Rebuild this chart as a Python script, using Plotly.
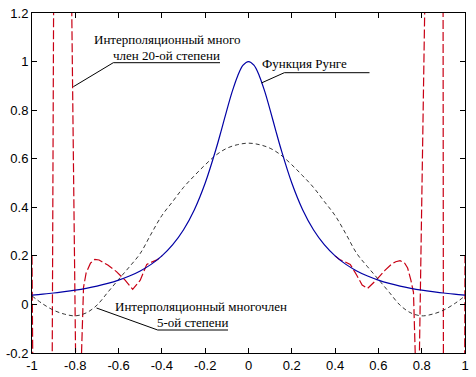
import plotly.graph_objects as go

# Runge function samples
runge_x = [-1.0, -0.95, -0.9, -0.85, -0.8, -0.75, -0.7, -0.65, -0.6, -0.55, -0.5, -0.45, -0.4,
           -0.35, -0.3, -0.25, -0.2, -0.15, -0.125, -0.1, -0.075, -0.05, -0.025, 0.0,
           0.025, 0.05, 0.075, 0.1, 0.125, 0.15, 0.2, 0.25, 0.3, 0.35, 0.4, 0.45, 0.5,
           0.55, 0.6, 0.65, 0.7, 0.75, 0.8, 0.85, 0.9, 0.95, 1.0]
runge_y = [0.0385, 0.0424, 0.0471, 0.0525, 0.0588, 0.0664, 0.0755, 0.0865, 0.100, 0.1168, 0.1379, 0.1649, 0.200,
           0.2462, 0.3077, 0.3902, 0.500, 0.640, 0.719, 0.800, 0.877, 0.941, 0.985, 1.000,
           0.985, 0.941, 0.877, 0.800, 0.719, 0.640, 0.500, 0.3902, 0.3077, 0.2462, 0.200, 0.1649, 0.1379,
           0.1168, 0.100, 0.0865, 0.0755, 0.0664, 0.0588, 0.0525, 0.0471, 0.0424, 0.0385]

# Degree-5 interpolation polynomial (black dashed)
p5_x = [-1.0, -0.95, -0.9, -0.85, -0.8, -0.75, -0.7, -0.65, -0.6, -0.55, -0.5, -0.45, -0.4, -0.35,
        -0.3, -0.25, -0.2, -0.15, -0.1, -0.05, 0.0, 0.05, 0.1, 0.15, 0.2, 0.25, 0.3, 0.35, 0.4,
        0.45, 0.5, 0.55, 0.6, 0.65, 0.7, 0.75, 0.8, 0.85, 0.9, 0.95, 1.0]
p5_y = [0.035, 0.002, -0.024, -0.040, -0.047, -0.035, -0.003, 0.050, 0.103, 0.155, 0.210, 0.290, 0.366, 0.424,
        0.482, 0.530, 0.575, 0.615, 0.643, 0.658, 0.664, 0.658, 0.643, 0.615, 0.575, 0.530, 0.482, 0.424, 0.366,
        0.290, 0.210, 0.155, 0.103, 0.050, -0.003, -0.035, -0.047, -0.040, -0.024, 0.002, 0.035]

# Degree-20 interpolation polynomial (red dashed); values far outside the axes are clipped.
# In the middle it coincides with the Runge curve (hidden under it), so only the outer parts are kept.
p20_x = [-1.0, -0.99, -0.95, -0.91, -0.895, -0.86, -0.82, -0.795, -0.785, -0.778, -0.762,
         -0.75, -0.73, -0.71, -0.69, -0.67, -0.65, -0.61, -0.57, -0.535, -0.50, -0.47, -0.44, -0.42, -0.40,
         None,
         0.40, 0.42, 0.44, 0.47, 0.50, 0.525, 0.55, 0.59, 0.63, 0.66, 0.68, 0.70, 0.72, 0.735, 0.75, 0.762,
         0.778, 0.786, 0.818, 0.86, 0.897, 0.903, 0.95, 0.99, 1.0]
p20_y = [0.20, -3.0, -6.0, -1.0, 2.4, 6.0, 1.5, -0.5, -0.55, -0.4, 0.07,
         0.13, 0.17, 0.185, 0.183, 0.172, 0.162, 0.135, 0.10, 0.062, 0.10, 0.165, 0.178, 0.185, 0.200,
         None,
         0.200, 0.185, 0.178, 0.165, 0.12, 0.08, 0.066, 0.10, 0.14, 0.165, 0.176, 0.18, 0.172, 0.15, 0.10, 0.05,
         -0.45, -0.4, 1.45, 6.0, 3.0, -3.0, -6.0, -3.0, 0.20]

x_ticks = [-1, -0.8, -0.6, -0.4, -0.2, 0, 0.2, 0.4, 0.6, 0.8, 1]
x_tick_labels = ["-1", "-0.8", "-0.6", "-0.4", "-0.2", "0", "0.2", "0.4", "0.6", "0.8", "1"]
y_ticks = [-0.2, 0, 0.2, 0.4, 0.6, 0.8, 1, 1.2]
y_tick_labels = ["-0.2", "0", "0.2", "0.4", "0.6", "0.8", "1", "1.2"]

fig = go.Figure()
fig.add_trace(go.Scatter(x=p20_x, y=p20_y, mode="lines", connectgaps=False,
                         line=dict(color="rgb(200,0,20)", width=1.2, dash="9px,3px")))
fig.add_trace(go.Scatter(x=p5_x, y=p5_y, mode="lines", line_shape="spline",
                         line=dict(color="rgb(30,30,30)", width=0.9, dash="4px,3px")))
fig.add_trace(go.Scatter(x=runge_x, y=runge_y, mode="lines", line_shape="spline",
                         line=dict(color="rgb(0,0,165)", width=1.2)))

serif = dict(family="Liberation Serif", size=13, color="black")

def label(x, y, text):
    fig.add_annotation(x=x, y=y, xref="x", yref="y", text=text, showarrow=False,
                       font=serif, xanchor="center", yanchor="middle")

def seg(x0, y0, x1, y1):
    fig.add_shape(type="line", x0=x0, y0=y0, x1=x1, y1=y1, xref="x", yref="y",
                  line=dict(color="black", width=1))

label(-0.374, 1.089, "Интерполяционный много")
label(-0.378, 1.027, "член 20-ой степени")
seg(-0.6245, 0.9954, -0.1316, 0.9954)
seg(-0.6245, 0.9954, -0.809, 0.8965)

label(0.2587, 0.994, "Функция Рунге")
seg(0.1655, 0.9542, 0.5589, 0.9542)
seg(0.1655, 0.9542, 0.060, 0.912)

label(-0.221, -0.0065, "Интерполяционный многочлен")
label(-0.259, -0.0752, "5-ой степени")
seg(-0.4194, -0.1053, -0.0947, -0.1053)
seg(-0.4194, -0.1053, -0.702, -0.0147)

axis_common = dict(showgrid=False, zeroline=False, showline=True, linecolor="black", linewidth=1,
                   mirror="ticks", ticks="inside", ticklen=5, tickcolor="black", tickwidth=1,
                   automargin=False,
                   tickfont=dict(family="Liberation Sans", size=13, color="black"))

fig.update_xaxes(range=[-1, 1], tickvals=x_ticks, ticktext=x_tick_labels, **axis_common)
fig.update_yaxes(range=[-0.2, 1.2], tickvals=y_ticks, ticktext=y_tick_labels, **axis_common)

fig.update_layout(width=476, height=377, margin=dict(l=32, r=11, t=13, b=24, autoexpand=False),
                  plot_bgcolor="white", paper_bgcolor="white", showlegend=False)

fig.write_html("out.html", config={"displayModeBar": False},
               post_script="document.body.style.margin='0';document.body.style.overflow='hidden';")
